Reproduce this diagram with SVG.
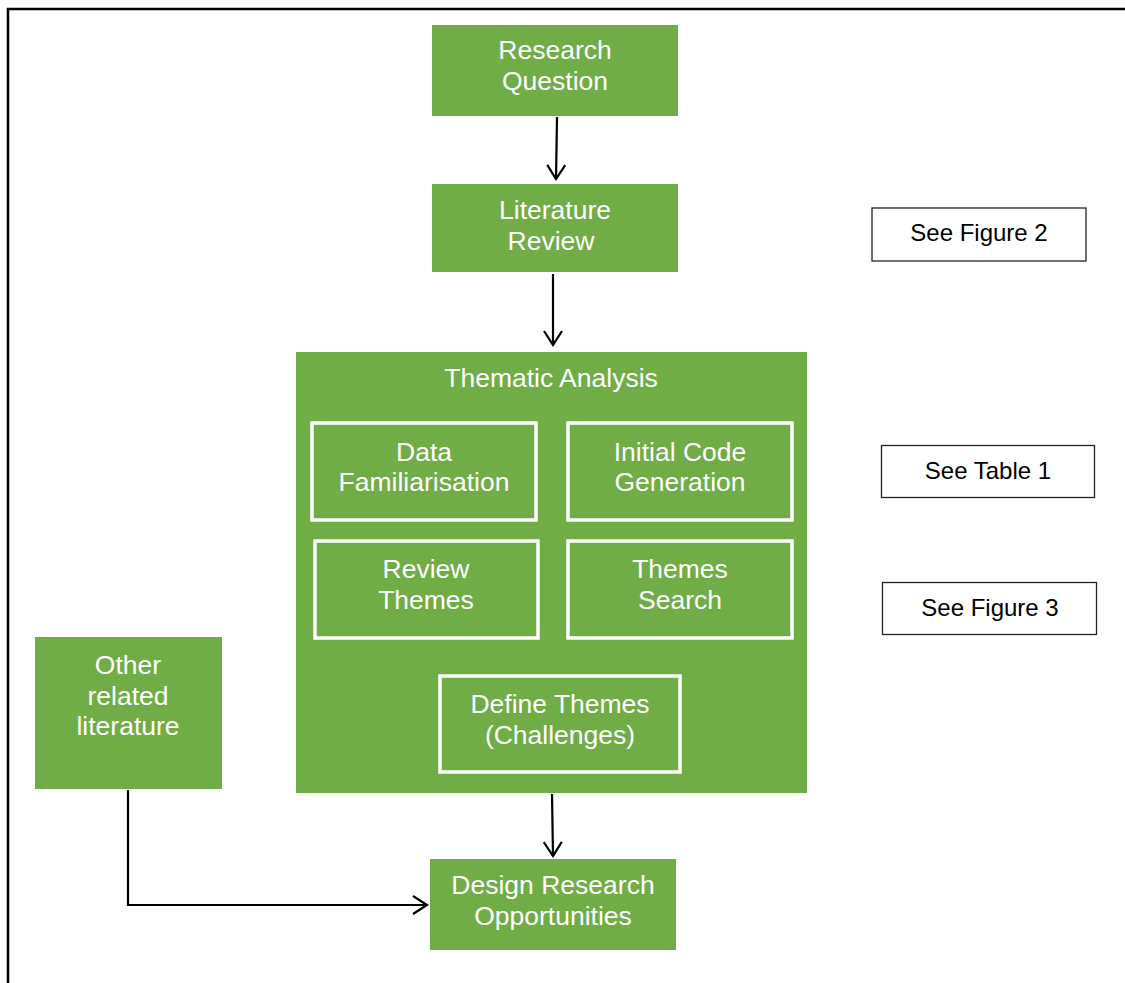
<svg xmlns="http://www.w3.org/2000/svg" width="1125" height="983" viewBox="0 0 1125 983">
<defs>
<marker id="arr" viewBox="-2 -2 22 24" refX="16" refY="10" markerWidth="22" markerHeight="24" markerUnits="userSpaceOnUse" orient="auto">
<path d="M2,1 L16,10 L2,19" fill="none" stroke="#000" stroke-width="2.2"/>
</marker>
<style>
.g{fill:#70AD47;}
.inner{fill:#70AD47;stroke:#fff;stroke-width:3.5;}
.ref{fill:#fff;stroke:#222;stroke-width:1.3;}
.wt{fill:#fff;font-family:"Liberation Sans",Arial,sans-serif;font-size:26.5px;text-anchor:middle;}
.bt{fill:#000;font-family:"Liberation Sans",Arial,sans-serif;font-size:24px;text-anchor:middle;}
.c{fill:none;stroke:#000;stroke-width:2.2;marker-end:url(#arr);}
</style>
</defs>
<rect width="1125" height="983" fill="#fff"/>
<path d="M8,983 V9 H1125" fill="none" stroke="#000" stroke-width="2.5"/>

<g id="research-question">
<rect class="g" x="432" y="25" width="246" height="91"/>
<text class="wt" x="555" y="59">Research</text>
<text class="wt" x="555" y="90">Question</text>
</g>
<g id="literature-review">
<rect class="g" x="432" y="184" width="246" height="88"/>
<text class="wt" x="555" y="219">Literature</text>
<text class="wt" x="551" y="250">Review</text>
</g>
<g id="thematic-analysis">
<rect class="g" x="296" y="352" width="511" height="441"/>
<text class="wt" x="551" y="387">Thematic Analysis</text>
</g>
<g id="data-familiarisation">
<rect class="inner" x="312" y="423" width="224" height="97"/>
<text class="wt" x="424" y="461">Data</text>
<text class="wt" x="424" y="491">Familiarisation</text>
</g>
<g id="initial-code-generation">
<rect class="inner" x="568" y="423" width="224" height="97"/>
<text class="wt" x="680" y="461">Initial Code</text>
<text class="wt" x="680" y="491">Generation</text>
</g>
<g id="review-themes">
<rect class="inner" x="315" y="541" width="223" height="97"/>
<text class="wt" x="426" y="578">Review</text>
<text class="wt" x="426" y="609">Themes</text>
</g>
<g id="themes-search">
<rect class="inner" x="568" y="541" width="224" height="97"/>
<text class="wt" x="680" y="578">Themes</text>
<text class="wt" x="680" y="609">Search</text>
</g>
<g id="define-themes">
<rect class="inner" x="440" y="676" width="240" height="96"/>
<text class="wt" x="560" y="713">Define Themes</text>
<text class="wt" x="560" y="744">(Challenges)</text>
</g>
<g id="other-related-literature">
<rect class="g" x="35" y="637" width="187" height="152"/>
<text class="wt" x="128" y="674">Other</text>
<text class="wt" x="128" y="705">related</text>
<text class="wt" x="128" y="735">literature</text>
</g>
<g id="design-research-opportunities">
<rect class="g" x="430" y="859" width="246" height="91"/>
<text class="wt" x="553" y="894">Design Research</text>
<text class="wt" x="553" y="925">Opportunities</text>
</g>
<g id="see-figure-2">
<rect class="ref" x="872" y="208" width="214" height="53"/>
<text class="bt" x="979" y="241">See Figure 2</text>
</g>
<g id="see-table-1">
<rect class="ref" x="881.5" y="445.5" width="213" height="52"/>
<text class="bt" x="988" y="479">See Table 1</text>
</g>
<g id="see-figure-3">
<rect class="ref" x="882.5" y="582.5" width="214" height="52"/>
<text class="bt" x="990" y="616">See Figure 3</text>
</g>

<g id="connectors">
<path class="c" d="M557,117 L556,179"/>
<path class="c" d="M553,274 L553,345"/>
<path class="c" d="M552,794 L553,856"/>
<path class="c" d="M128,790 V905 H427"/>
</g>
</svg>
